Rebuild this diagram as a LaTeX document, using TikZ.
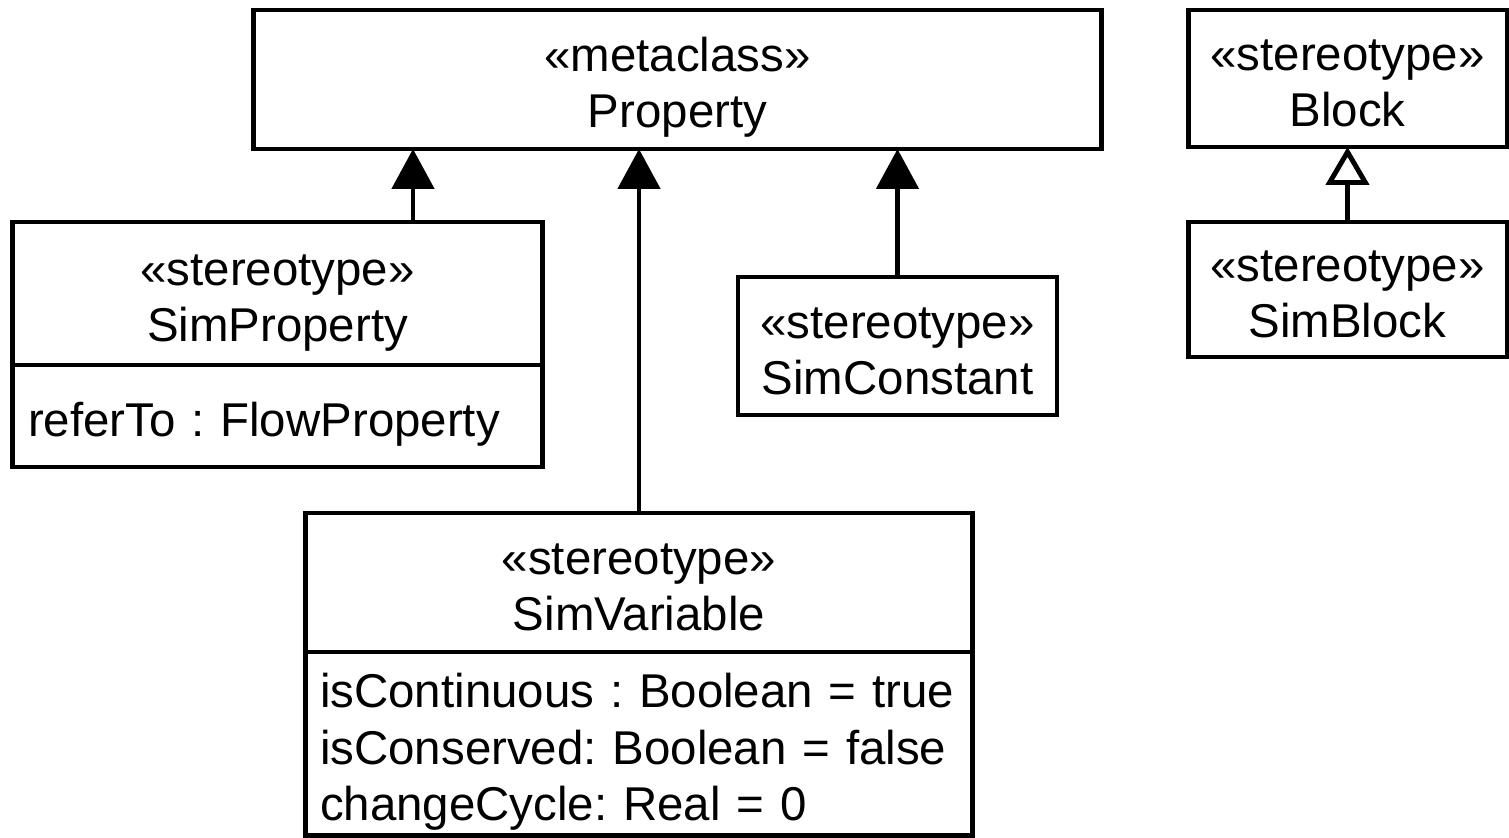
\documentclass[tikz,border=0pt]{standalone}
\usepackage{fontspec}
\setmainfont{Liberation Sans}
\usetikzlibrary{arrows.meta}

\newcommand{\umlhead}[2]{\rule{0pt}{30pt}«#1»\\#2\rule[-7pt]{0pt}{7pt}}
\newcommand{\umlattr}[1]{\rule{0pt}{29pt}#1\rule[-6pt]{0pt}{6pt}}

\tikzset{
  classbox/.style={draw, line width=2.8pt, align=center, inner sep=0pt, outer sep=0pt,
    font=\fontsize{27}{32}\selectfont\frenchspacing},
  attrbox/.style={classbox, anchor=north, align=left, inner xsep=0.32cm},
  extends/.style={line width=2.8pt, -{Triangle[width=0.84cm,length=0.8cm]}},
  realizes/.style={line width=2.8pt, -{Triangle[open,width=0.86cm,length=0.76cm]}}
}

\begin{document}
\begin{tikzpicture}[x=0.02cm, y=-0.02cm]

        \useasboundingbox (0,0) rectangle (1509,838);

        \node[classbox, minimum width=16.98cm, minimum height=2.78cm] (prop) at (677.5,79.5)
          {\umlhead{metaclass}{Property}};
        \node[classbox, minimum width=6.38cm, minimum height=2.74cm] (blk) at (1347.5,78.5)
          {\umlhead{stereotype}{Block}};
        \node[classbox, minimum width=6.38cm, minimum height=2.70cm] (sb) at (1347.5,289.5)
          {\umlhead{stereotype}{SimBlock}};

        \node[classbox, minimum width=10.62cm, minimum height=2.86cm] (sp) at (277.5,293.5)
          {\umlhead{stereotype}{SimProperty}};
        \node[attrbox, text width=9.98cm, minimum height=2.04cm] (spa) at (sp.south)
          {\umlattr{referTo : FlowProperty}};

        \node[classbox, minimum width=6.38cm, minimum height=2.76cm] (sc) at (897.5,346)
          {\umlhead{stereotype}{SimConstant}};

        \node[classbox, minimum width=13.36cm, minimum height=2.78cm] (sv) at (639,582.5)
          {\umlhead{stereotype}{SimVariable}};
        \node[attrbox, inner xsep=0.3cm, text width=12.76cm, minimum height=3.68cm] (sva) at (sv.south)
          {\umlattr{isContinuous : Boolean = true\\isConserved: Boolean = false\\changeCycle: Real = 0}};

        % generalisations
        \draw[extends] (413,0 |- sp.north) -- (413,0 |- prop.south);
        \draw[extends] (sv.north) -- (sv.north |- prop.south);
        \draw[extends] (sc.north) -- (sc.north |- prop.south);
        \draw[realizes] (sb.north) -- (blk.south);

\end{tikzpicture}
\end{document}
